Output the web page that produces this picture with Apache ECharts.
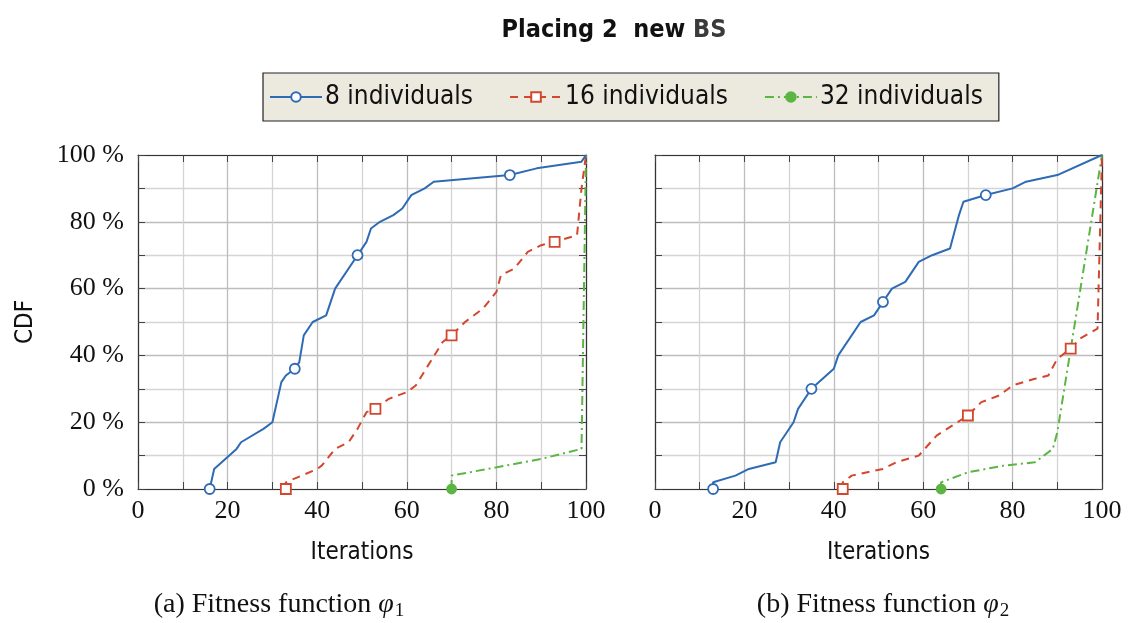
<!DOCTYPE html>
<html>
<head>
<meta charset="utf-8">
<script src="https://cdn.jsdelivr.net/npm/echarts@6/dist/echarts.min.js"></script>
<style>
  html, body { margin: 0; padding: 0; background: #fff; }
  #chart { width: 1131px; height: 623px; }
</style>
</head>
<body>
<div id="chart"></div>
<script>
// CDF of iterations needed, fitness function φ1 (left) and φ2 (right)
const seriesNames = ['8 individuals', '16 individuals', '32 individuals'];

// [iteration, CDF %] pairs
const phi1_8  = [[16,0],[17,6],[22,12],[23,14],[28,18],[30,20],[32,32],[33,34],[35,36],[36,38],[37,46],[39,50],[42,52],[44,60],[49,70],[51,74],[52,78],[54,80],[57,82],[59,84],[61,88],[64,90],[66,92],[83,94],[89,96],[99,98],[100,100]];
const phi1_16 = [[33,0],[33,2],[40,6],[41,7],[44,12],[47,14],[49,18],[51,23],[53,24],[56,27],[60,29],[62,31],[68,44],[70,46],[73,50],[77,54],[80,59],[81,64],[84,66],[87,71],[90,73],[93,74],[98,76],[99,90],[100,100]];
const phi1_32 = [[70,0],[70,4],[90,9],[99,12],[100,100]];

const phi2_8  = [[13,0],[13,2],[18,4],[21,6],[27,8],[28,14],[31,20],[32,24],[35,30],[40,36],[41,40],[46,50],[49,52],[51,56],[53,60],[56,62],[59,68],[62,70],[66,72],[67,77],[68,82],[69,86],[74,88],[80,90],[83,92],[90,94],[100,100]];
const phi2_16 = [[42,0],[42,2],[44,4],[51,6],[54,8],[59,10],[63,16],[70,22],[73,26],[77,28],[80,31],[85,33],[88,34],[90,39],[93,42],[95,45],[99,48],[100,100]];
const phi2_32 = [[64,0],[64,2],[70,5],[78,7],[85,8],[89,12],[90,17],[100,100]];

// iterations at which a marker is drawn (first point at that iteration)
const phi1_8_marks  = [16,35,49,83];
const phi1_16_marks = [33,53,70,93];
const phi1_32_marks = [70];
const phi2_8_marks  = [13,35,51,74];
const phi2_16_marks = [42,70,93];
const phi2_32_marks = [64];

const SANS = "'Liberation Sans Narrow', 'DejaVu Sans Condensed', sans-serif";
const SERIF = "'Liberation Serif', 'DejaVu Serif', serif";

const styles = [
  { color: '#2F6BB5', line: 'solid', symbol: 'circle', fill: '#fff', size: 10 },
  { color: '#D3472E', line: [8, 6], symbol: 'rect', fill: '#fff', size: 10 },
  { color: '#5BB543', line: [9, 4, 2, 4], symbol: 'circle', fill: '#5BB543', size: 9 }
];

function markData(points, marks) {
  const used = new Set();
  return points.map(p => {
    if (marks.includes(p[0]) && !used.has(p[0])) {
      used.add(p[0]);
      return p;
    }
    return { value: p, symbol: 'none' };
  });
}

function makeSeries(k, gi, points, marks) {
  const s = styles[k];
  return {
    name: seriesNames[k],
    type: 'line',
    xAxisIndex: gi * 2,
    yAxisIndex: gi * 2,
    data: markData(points, marks),
    symbol: s.symbol,
    symbolSize: s.size,
    showAllSymbol: true,
    lineStyle: { color: s.color, width: 2, type: s.line },
    itemStyle: { color: s.fill, borderColor: s.color, borderWidth: 1.8 },
    z: 10 - k,
    clip: false,
    animation: false
  };
}

// short inward ticks on all four sides of each plot box
function ticks() {
  return { show: true, inside: true, length: 7, lineStyle: { color: '#444', width: 1 } };
}
const gridColors = ['#BDBDBD', '#D4D4D4'];
const labelEvery20 = v => (v % 20 === 0 ? String(v) : '');

function xAxes(gi) {
  return [
    {
      gridIndex: gi, type: 'value', min: 0, max: 100, interval: 10, position: 'bottom',
      name: 'Iterations', nameLocation: 'middle', nameGap: 52,
      nameTextStyle: { fontFamily: SANS, fontSize: 24, color: '#111' },
      axisLine: { show: true, onZero: false, lineStyle: { color: '#333', width: 1.2 } },
      axisTick: ticks(),
      splitLine: { show: true, lineStyle: { color: gridColors, width: 1.3 } },
      axisLabel: { inside: false, fontFamily: SERIF, fontSize: 26, color: '#111', margin: 9, formatter: labelEvery20 }
    },
    {
      gridIndex: gi, type: 'value', min: 0, max: 100, interval: 10, position: 'top',
      axisLine: { show: true, onZero: false, lineStyle: { color: '#333', width: 1.2 } },
      axisTick: ticks(),
      splitLine: { show: false }, axisLabel: { show: false }
    }
  ];
}

function yAxes(gi, showLabels) {
  return [
    {
      gridIndex: gi, type: 'value', min: 0, max: 100, interval: 10, position: 'left',
      name: showLabels ? 'CDF' : '', nameLocation: 'middle', nameGap: 100,
      nameTextStyle: { fontFamily: SANS, fontSize: 24, color: '#111' },
      axisLine: { show: true, onZero: false, lineStyle: { color: '#333', width: 1.2 } },
      axisTick: ticks(),
      splitLine: { show: true, lineStyle: { color: gridColors, width: 1.3 } },
      axisLabel: {
        show: showLabels, inside: false, fontFamily: SERIF, fontSize: 26, color: '#111', margin: 14,
        formatter: v => (v % 20 === 0 ? v + ' %' : '')
      }
    },
    {
      gridIndex: gi, type: 'value', min: 0, max: 100, interval: 10, position: 'right',
      axisLine: { show: true, onZero: false, lineStyle: { color: '#333', width: 1.2 } },
      axisTick: ticks(),
      splitLine: { show: false }, axisLabel: { show: false }
    }
  ];
}

const captionRich = {
  t: { fontFamily: SERIF, fontSize: 28, fontWeight: 'normal', color: '#111' },
  p: { fontFamily: SERIF, fontSize: 28, fontWeight: 'normal', color: '#111', fontStyle: 'italic' },
  s: { fontFamily: SERIF, fontSize: 19, fontWeight: 'normal', color: '#111', padding: [13, 0, 0, 1] }
};

const option = {
  backgroundColor: '#fff',
  animation: false,
  title: [
    {
      text: '{a|Placing 2  new }{b|BS}', left: 609, textAlign: 'center', top: 13,
      textStyle: { rich: {
        a: { fontFamily: SANS, fontSize: 25, fontWeight: 'bold', color: '#111' },
        b: { fontFamily: SANS, fontSize: 25, fontWeight: 'bold', color: '#3a3a3a' }
      } }
    },
    { text: '{t|(a) Fitness function }{p|φ}{s|1}', left: 274, textAlign: 'center', top: 584, textStyle: { fontWeight: 'normal', rich: captionRich } },
    { text: '{t|(b) Fitness function }{p|φ}{s|2}', left: 878, textAlign: 'center', top: 584, textStyle: { fontWeight: 'normal', rich: captionRich } }
  ],
  legend: {
    data: seriesNames,
    left: 263, top: 73,
    padding: [11, 16, 11, 6],
    itemGap: 36,
    itemWidth: 52, itemHeight: 12,
    backgroundColor: '#ECEADF',
    borderColor: '#222', borderWidth: 1.2, borderRadius: 0,
    textStyle: { fontFamily: SANS, fontSize: 26, color: '#111', padding: [0, 0, 0, -2] }
  },
  grid: [
    { left: 138, top: 155, width: 448, height: 334 },
    { left: 655, top: 155, width: 447, height: 334 }
  ],
  xAxis: [...xAxes(0), ...xAxes(1)],
  yAxis: [...yAxes(0, true), ...yAxes(1, false)],
  series: [
    makeSeries(0, 0, phi1_8, phi1_8_marks),
    makeSeries(1, 0, phi1_16, phi1_16_marks),
    makeSeries(2, 0, phi1_32, phi1_32_marks),
    makeSeries(0, 1, phi2_8, phi2_8_marks),
    makeSeries(1, 1, phi2_16, phi2_16_marks),
    makeSeries(2, 1, phi2_32, phi2_32_marks)
  ]
};

const chart = echarts.init(document.getElementById('chart'), null, { renderer: 'canvas' });
chart.setOption(option);
</script>
</body>
</html>
